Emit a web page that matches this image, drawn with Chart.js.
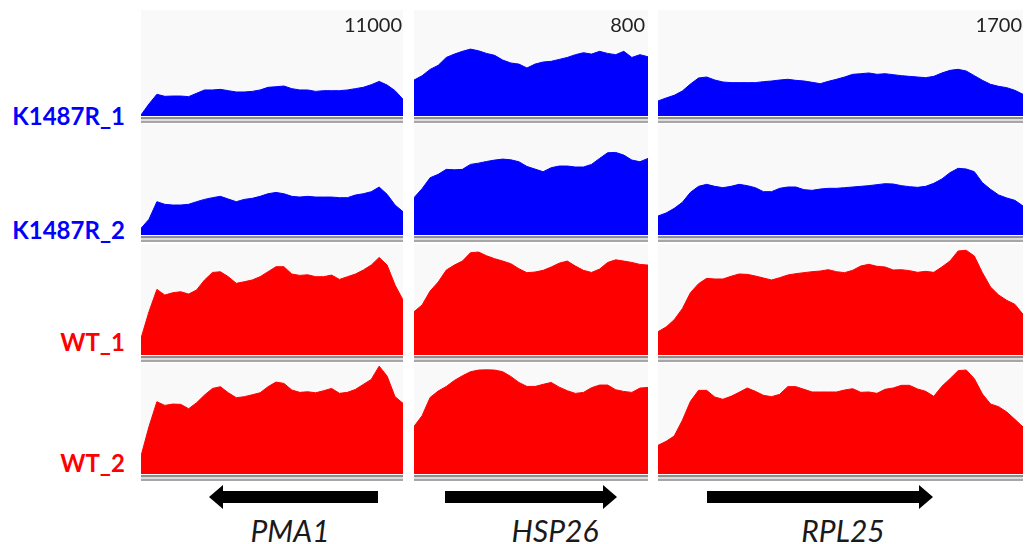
<!DOCTYPE html>
<html>
<head>
<meta charset="utf-8">
<script src="https://cdn.jsdelivr.net/npm/chart.js@4.4.1/dist/chart.umd.min.js"></script>
<style>
  html, body { margin: 0; padding: 0; background: #fff; }
  #fig { position: relative; width: 1027px; height: 544px; overflow: hidden; font-family: Lato, "Open Sans", sans-serif; }
  .panel { position: absolute; background: #f9f9f9; overflow: hidden; }
  .panel canvas { position: absolute; left: 0; bottom: 0; }
  .sep { position: absolute; height: 6px;
         background: linear-gradient(to bottom, #8e8e8e 0, #8e8e8e 2px, #dcdcdc 2px, #dcdcdc 4px, #a6a6a6 4px, #a6a6a6 6px); }
  .rowlab { position: absolute; width: 125px; left: 0; text-align: right; font-weight: 700; font-size: 24px; line-height: 24px; white-space: nowrap; }
  .range { position: absolute; font-size: 20px; line-height: 20px; color: #222; text-align: right; z-index: 2; }
  .gene { position: absolute; font-style: italic; font-size: 30px; line-height: 30px; color: #1a1a1a; transform: translateX(-50%); white-space: nowrap; }
  svg { position: absolute; left: 0; top: 0; }
</style>
</head>
<body>
<div id="fig"></div>
<script>
// columns (genes) and rows (samples)
const geneNames = ['PMA1', 'HSP26', 'RPL25'];
const geneStrand = ['-', '+', '+'];
const dataRange = [11000, 800, 1700];
const sampleNames = ['K1487R_1', 'K1487R_2', 'WT_1', 'WT_2'];
const sampleColors = ['#0000ff', '#0000ff', '#ff0000', '#ff0000'];

// coverage
const pma1K1 = [100,1190,2150,1950,1980,1980,1920,2250,2580,2580,2640,2510,2380,2380,2440,2580,2840,2900,2970,2710,2580,2580,2440,2510,2510,2510,2580,2710,2840,3100,3430,3070,2510,1650];
const pma1K2 = [660,1550,3300,3040,2970,2970,3040,3300,3530,3700,3830,3560,3300,3530,3630,3830,4090,4220,4090,3830,3760,3830,3760,3760,3760,3700,3700,3960,4090,4290,4750,4030,2970,2310];
const pma1WT1 = [1650,4290,6500,5940,6170,6270,6040,6440,7430,8180,8250,7760,7100,7260,7430,7760,8250,8750,8750,8020,7890,7950,7760,7760,7920,7490,7760,8020,8420,8910,9670,8910,6930,5450];
const pma1WT2 = [1780,4690,7160,6800,6930,6900,6470,7060,7820,8480,8650,8050,7560,7660,7850,8050,8650,9110,8980,8320,8090,8150,8050,8250,8480,7990,8090,8380,8880,9370,10690,9700,7660,7000];

const hsp26K1 = [259,290,336,365,422,446,466,482,470,451,437,403,382,374,346,374,389,394,408,422,442,456,446,466,451,442,466,422,442,427];
const hsp26K2 = [269,334,413,437,473,470,473,509,518,530,540,547,542,528,494,475,456,485,497,497,490,490,509,552,593,595,576,540,528,552];
const hsp26WT1 = [312,360,461,526,612,648,677,737,742,715,694,677,658,622,593,598,610,634,662,677,641,610,595,619,667,686,677,667,653,648];
const hsp26WT2 = [343,420,552,598,631,674,708,737,749,751,749,737,703,660,631,631,646,660,626,600,581,588,622,641,641,607,595,588,619,624];

const rpl25K1 = [230,276,317,383,490,582,597,551,521,511,511,511,511,526,536,551,562,546,536,516,495,531,562,597,638,648,659,638,648,633,618,607,597,587,607,659,699,715,689,618,546,485,454,434,393,332];
const rpl25K2 = [291,337,408,500,653,745,776,745,725,745,776,756,725,664,664,715,735,735,694,684,704,715,715,725,735,745,756,771,786,781,756,740,730,745,791,858,955,1021,1011,970,801,699,613,567,531,444];
const rpl25WT1 = [357,429,541,710,955,1092,1174,1164,1164,1205,1241,1235,1210,1179,1149,1184,1225,1246,1261,1276,1286,1307,1276,1261,1297,1363,1389,1358,1348,1302,1307,1292,1266,1281,1266,1348,1440,1593,1603,1516,1261,1041,919,837,776,623];
const rpl25WT2 = [439,500,582,822,1113,1281,1281,1179,1144,1189,1251,1317,1266,1205,1184,1220,1338,1338,1297,1256,1256,1256,1256,1286,1307,1251,1256,1235,1297,1317,1358,1358,1302,1266,1189,1343,1460,1583,1593,1460,1225,1072,1031,950,837,720];

const coverage = [
  [pma1K1, hsp26K1, rpl25K1],
  [pma1K2, hsp26K2, rpl25K2],
  [pma1WT1, hsp26WT1, rpl25WT1],
  [pma1WT2, hsp26WT2, rpl25WT2]
];

// layout
const colLeft = [141, 414, 658];
const colWidth = [262, 234, 365];
const rowBase = [116, 235, 355, 474];
const trackH = 111;
const firstTop = 10;
const labelTop = [104, 218, 330, 451];
const rangeRight = [402, 645, 1022];
const geneCenter = [290, 555, 843];
const arrowTail = [378, 445, 707];
const arrowTip = [209, 617, 933];
const arrowY = 497;

const fig = document.getElementById('fig');

function makeTrack(parent, values, max, color, w) {
  const cv = document.createElement('canvas');
  cv.width = w; cv.height = trackH;
  cv.style.width = w + 'px'; cv.style.height = trackH + 'px';
  parent.appendChild(cv);
  new Chart(cv.getContext('2d'), {
    type: 'line',
    data: {
      labels: values.map((v, i) => i),
      datasets: [{
        data: values,
        fill: 'origin',
        backgroundColor: color,
        borderColor: color,
        borderWidth: 1,
        pointRadius: 0,
        tension: 0
      }]
    },
    options: {
      responsive: false,
      animation: false,
      devicePixelRatio: 1,
      layout: { padding: 0 },
      plugins: { legend: { display: false }, tooltip: { enabled: false } },
      scales: {
        x: { display: false, offset: false },
        y: { display: false, min: 0, max: max }
      }
    }
  });
}

sampleNames.forEach((name, r) => {
  geneNames.forEach((g, c) => {
    const top = r === 0 ? firstTop : rowBase[r] - trackH;
    const p = document.createElement('div');
    p.className = 'panel';
    p.style.left = colLeft[c] + 'px';
    p.style.width = colWidth[c] + 'px';
    p.style.top = top + 'px';
    p.style.height = (rowBase[r] - top) + 'px';
    fig.appendChild(p);
    makeTrack(p, coverage[r][c], dataRange[c], sampleColors[r], colWidth[c]);

    const s = document.createElement('div');
    s.className = 'sep';
    s.style.left = colLeft[c] + 'px';
    s.style.width = colWidth[c] + 'px';
    s.style.top = (rowBase[r] + 1) + 'px';
    fig.appendChild(s);
  });

  const lab = document.createElement('div');
  lab.className = 'rowlab';
  lab.style.top = labelTop[r] + 'px';
  lab.style.color = sampleColors[r];
  lab.textContent = name;
  fig.appendChild(lab);
});

geneNames.forEach((g, c) => {
  const rl = document.createElement('div');
  rl.className = 'range';
  rl.style.top = '14px';
  rl.style.right = (1027 - rangeRight[c]) + 'px';
  rl.textContent = dataRange[c];
  fig.appendChild(rl);

  const gl = document.createElement('div');
  gl.className = 'gene';
  gl.style.left = geneCenter[c] + 'px';
  gl.style.top = '515px';
  gl.textContent = g;
  fig.appendChild(gl);
});

// gene arrows
const svgNS = 'http://www.w3.org/2000/svg';
const svg = document.createElementNS(svgNS, 'svg');
svg.setAttribute('width', 1027);
svg.setAttribute('height', 544);
geneNames.forEach((g, c) => {
  const tail = arrowTail[c], tip = arrowTip[c];
  const d = geneStrand[c] === '+' ? 1 : -1;
  const hb = tip - d * 14, y = arrowY;
  const pts = [[tail, y - 6], [hb, y - 6], [hb, y - 12], [tip, y], [hb, y + 12], [hb, y + 6], [tail, y + 6]];
  const poly = document.createElementNS(svgNS, 'polygon');
  poly.setAttribute('points', pts.map(p => p.join(',')).join(' '));
  poly.setAttribute('fill', '#000');
  svg.appendChild(poly);
});
fig.appendChild(svg);
</script>
</body>
</html>
